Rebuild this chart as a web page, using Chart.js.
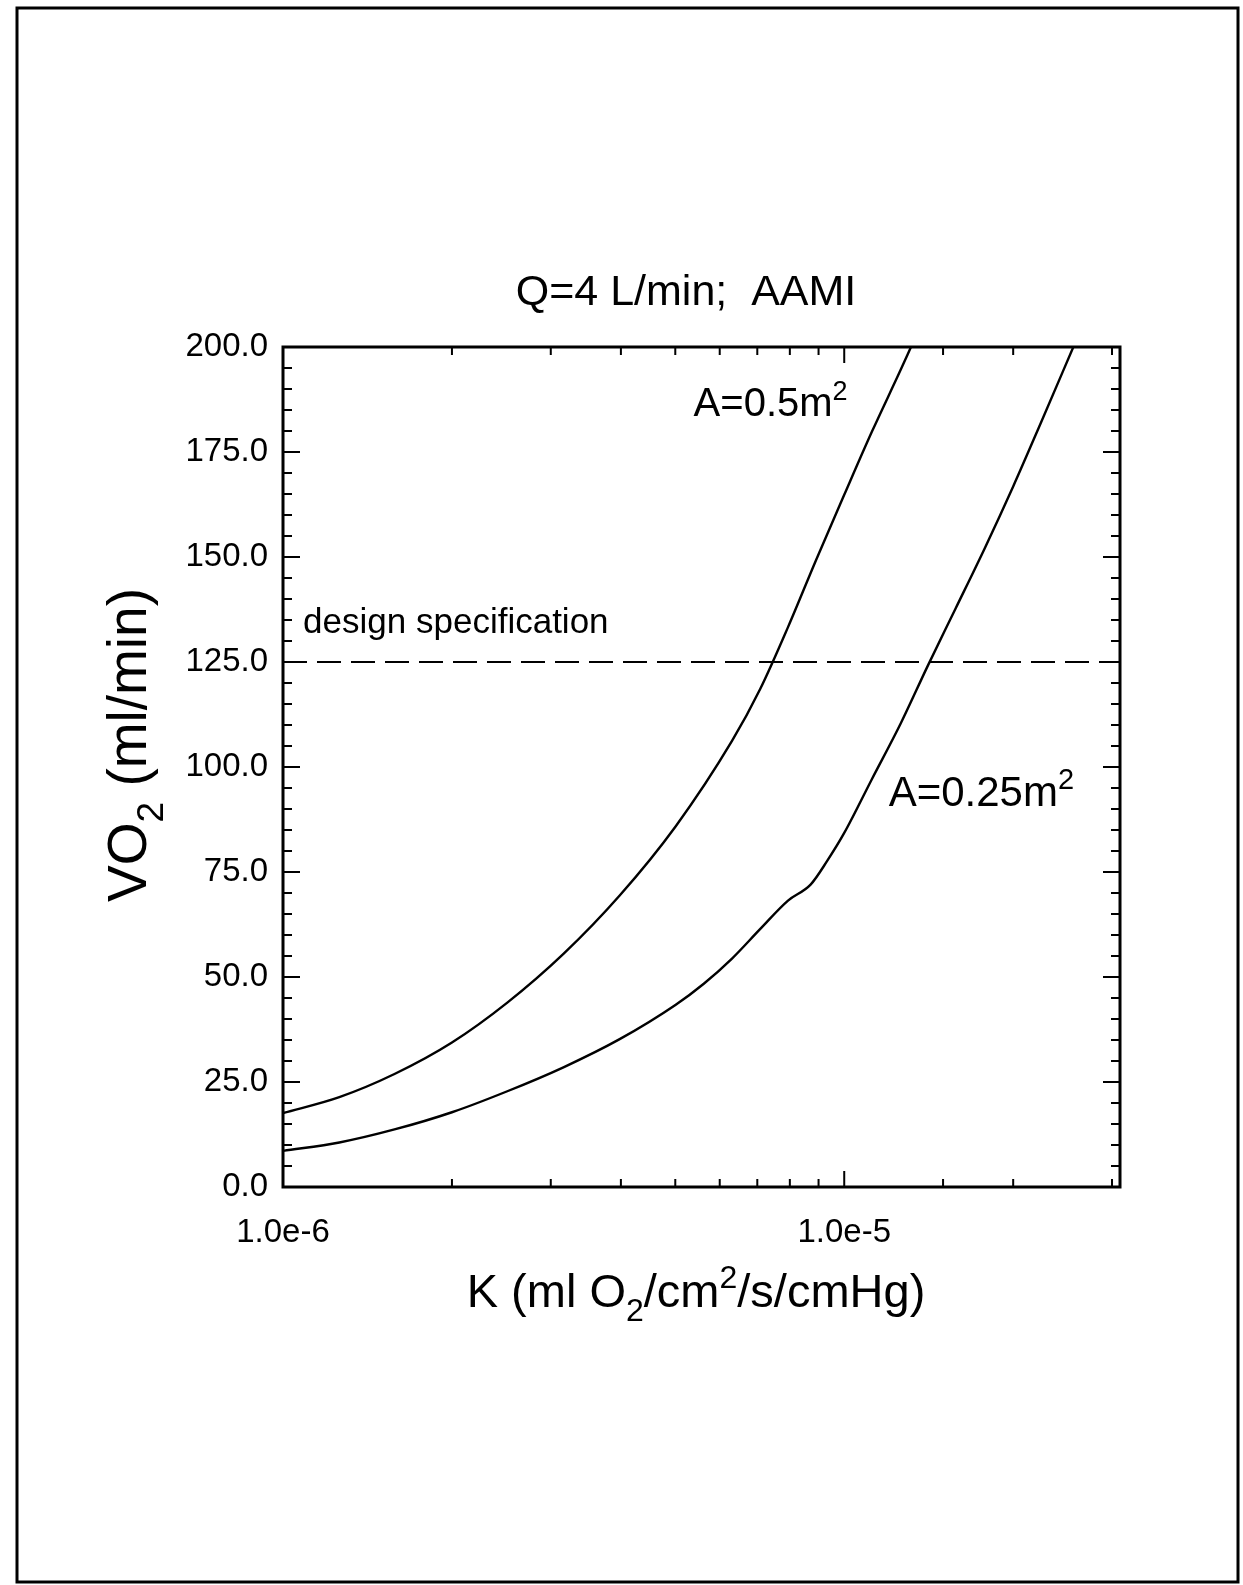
<!DOCTYPE html>
<html>
<head>
<meta charset="utf-8">
<script src="https://cdn.jsdelivr.net/npm/chart.js@4.4.1/dist/chart.umd.min.js"></script>
<style>
  html, body { margin: 0; padding: 0; background: #fff; }
</style>
</head>
<body>
<canvas id="chart" width="1243" height="1585"></canvas>
<script>
// K (ml O2/cm2/s/cmHg) and VO2 (ml/min)
const kLarge = [1.0e-6, 1.26e-6, 1.58e-6, 2.0e-6, 2.51e-6, 3.16e-6, 3.98e-6, 5.01e-6, 6.31e-6, 7.08e-6, 7.94e-6, 8.91e-6, 1.0e-5, 1.12e-5, 1.26e-5, 1.315e-5];
const vo2Large = [17.6, 21.4, 26.9, 34.4, 43.9, 55.5, 69.4, 85.9, 106.2, 118.5, 133.3, 149.3, 164.8, 179.8, 194.5, 200.0];

const kSmall = [1.0e-6, 1.26e-6, 1.58e-6, 2.0e-6, 2.51e-6, 3.16e-6, 3.98e-6, 5.01e-6, 5.62e-6, 6.31e-6, 7.08e-6, 7.94e-6, 8.71e-6, 9.33e-6, 1.0e-5, 1.12e-5, 1.26e-5, 1.41e-5, 1.58e-5, 1.78e-5, 2.0e-5, 2.24e-5, 2.56e-5];
const vo2Small = [8.6, 10.6, 13.7, 17.8, 22.8, 28.5, 35.2, 43.4, 48.4, 54.4, 61.4, 68.2, 72.0, 77.7, 84.3, 97.1, 110.3, 124.2, 137.8, 152.1, 166.8, 181.9, 200.0];

const kSpec = [1.0e-6, 3.1e-5];
const vo2Spec = [125, 125];

const xMin = 1.0e-6, xMax = 3.1e-5;
const yMin = 0, yMax = 200, yStep = 25, yMinorStep = 5;

const FONT = "'Liberation Sans', Arial, Helvetica, sans-serif";

function pts(xs, ys) {
  return xs.map((x, i) => ({ x: x, y: ys[i] }));
}

function isDecade(v) {
  const l = Math.log10(v);
  return Math.abs(l - Math.round(l)) < 1e-6;
}

// text with sub (1) / superscript (2) pieces
function drawRich(ctx, parts, x, y, size, align) {
  const small = Math.round(size * 0.68);
  const widths = parts.map(([t, m]) => {
    ctx.font = (m ? small : size) + 'px ' + FONT;
    return ctx.measureText(t).width;
  });
  const total = widths.reduce((a, b) => a + b, 0);
  let cx = align === 'center' ? x - total / 2 : x;
  ctx.textAlign = 'left';
  ctx.textBaseline = 'alphabetic';
  parts.forEach(([t, m], i) => {
    ctx.font = (m ? small : size) + 'px ' + FONT;
    const dy = m === 1 ? size * 0.3 : (m === 2 ? -size * 0.4 : 0);
    ctx.fillText(t, cx, y + dy);
    cx += widths[i];
  });
}

const framePlugin = {
  id: 'frame',
  afterDraw(chart) {
    const ctx = chart.ctx;
    const a = chart.chartArea;
    const xs = chart.scales.x, ys = chart.scales.y;
    ctx.save();
    ctx.strokeStyle = '#000';
    ctx.fillStyle = '#000';

    // page border
    ctx.lineWidth = 3;
    ctx.strokeRect(17, 8, 1221, 1574);

    // plot box
    ctx.lineWidth = 3;
    ctx.strokeRect(a.left, a.top, a.right - a.left, a.bottom - a.top);

    // inward ticks
    ctx.lineWidth = 2;
    ctx.beginPath();
    for (let v = yMin; v <= yMax; v += yMinorStep) {
      const py = ys.getPixelForValue(v);
      const len = v % yStep === 0 ? 17 : 9;
      ctx.moveTo(a.left, py); ctx.lineTo(a.left + len, py);
      ctx.moveTo(a.right, py); ctx.lineTo(a.right - len, py);
    }
    xs.ticks.forEach(t => {
      if (t.value <= xMin || t.value >= xMax) return;
      const px = xs.getPixelForValue(t.value);
      const len = isDecade(t.value) ? 16 : 8;
      ctx.moveTo(px, a.bottom); ctx.lineTo(px, a.bottom - len);
      ctx.moveTo(px, a.top); ctx.lineTo(px, a.top + len);
    });
    ctx.stroke();

    // title
    drawRich(ctx, [['Q=4 L/min;  AAMI', 0]], 686, 305, 43, 'center');

    // axis titles
    drawRich(ctx, [['K (ml O', 0], ['2', 1], ['/cm', 0], ['2', 2], ['/s/cmHg)', 0]], 696, 1307, 47, 'center');
    ctx.save();
    ctx.translate(146, 745);
    ctx.rotate(-Math.PI / 2);
    drawRich(ctx, [['VO', 0], ['2', 1], [' (ml/min)', 0]], 0, 0, 55, 'center');
    ctx.restore();

    // curve labels, placed in data coordinates
    drawRich(ctx, [['A=0.5m', 0], ['2', 2]], xs.getPixelForValue(5.39e-6), ys.getPixelForValue(183.6), 40, 'left');
    drawRich(ctx, [['A=0.25m', 0], ['2', 2]], xs.getPixelForValue(1.2e-5), ys.getPixelForValue(90.8), 42, 'left');
    drawRich(ctx, [['design specification', 0]], xs.getPixelForValue(1.086e-6), ys.getPixelForValue(131.8), 35, 'left');
    ctx.restore();
  }
};

const ctx = document.getElementById('chart').getContext('2d');
const line = { borderColor: '#000', borderWidth: 2.4, pointRadius: 0, fill: false, cubicInterpolationMode: 'monotone' };

new Chart(ctx, {
  type: 'line',
  data: {
    datasets: [
      Object.assign({ label: 'A=0.5m²', data: pts(kLarge, vo2Large) }, line),
      Object.assign({ label: 'A=0.25m²', data: pts(kSmall, vo2Small) }, line),
      { label: 'design specification', data: pts(kSpec, vo2Spec), borderColor: '#000', borderWidth: 1.8, borderDash: [24, 10], pointRadius: 0, fill: false }
    ]
  },
  options: {
    responsive: false,
    animation: false,
    events: [],
    layout: { padding: { top: 347, right: 123, bottom: 0, left: 0 } },
    plugins: {
      legend: { display: false },
      tooltip: { enabled: false },
      title: { display: false }
    },
    scales: {
      x: {
        type: 'logarithmic',
        min: xMin,
        max: xMax,
        grid: { display: false, drawTicks: false },
        border: { display: false },
        ticks: {
          autoSkip: false,
          maxRotation: 0,
          padding: 26,
          color: '#000',
          font: { family: FONT, size: 33 },
          callback: v => isDecade(v) ? Number(v).toExponential(1) : ''
        },
        afterFit: s => { s.height = 398; }
      },
      y: {
        min: yMin,
        max: yMax,
        grid: { display: false, drawTicks: false },
        border: { display: false },
        ticks: {
          stepSize: yStep,
          padding: 15,
          color: '#000',
          font: { family: FONT, size: 33 },
          callback: v => Number(v).toFixed(1)
        },
        afterFit: s => { s.width = 283; }
      }
    }
  },
  plugins: [framePlugin]
});
</script>
</body>
</html>
